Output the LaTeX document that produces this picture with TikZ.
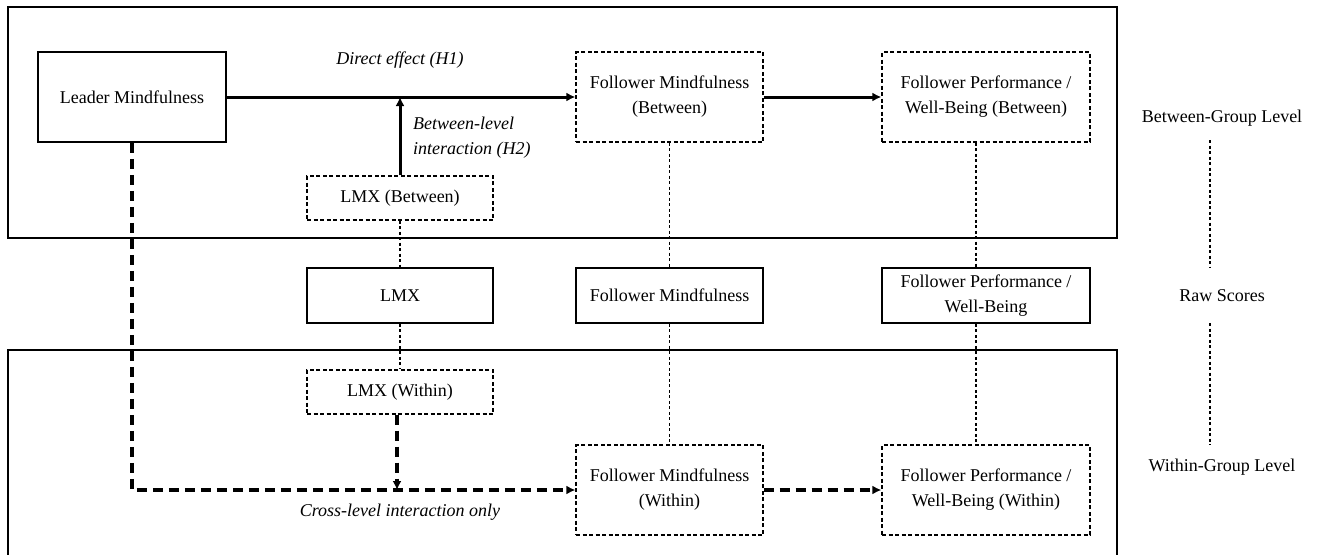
\documentclass[tikz,border=0pt]{standalone}
\usepackage{fontspec}
\setmainfont{Liberation Serif}
\usetikzlibrary{arrows.meta}
\begin{document}
\begin{tikzpicture}[x=1pt,y=-1pt,
  every node/.style={font=\fontsize{18}{25}\selectfont, align=center, inner sep=0pt},
  solidbox/.style={draw, line width=1.5pt},
  dashbox/.style={draw, line width=1.3pt, dash pattern=on 4pt off 2.5pt},
  levelbox/.style={draw, line width=1.6pt},
  link/.style={line width=1.1pt, dash pattern=on 3pt off 2.5pt},
  solidarrow/.style={line width=3pt, -{Latex[length=9pt,width=9pt]}},
  dasharrow/.style={line width=3.2pt, dash pattern=on 10pt off 6pt, -{Latex[length=9pt,width=9pt]}},
  lbl/.style={font=\fontsize{18}{25}\selectfont\itshape}
]
\useasboundingbox (0,0) rectangle (1322,554);
% level frames
\draw[levelbox] (8,7) rectangle (1117,238);
\draw[levelbox] (8,560) -- (8,350) -- (1117,350) -- (1117,560);

% nodes
\node[solidbox, minimum width=188pt, minimum height=90pt] (lm) at (132,97) {Leader Mindfulness};
\node[dashbox, minimum width=187pt, minimum height=90pt] (fmb) at (669.5,97) {Follower Mindfulness\\(Between)};
\node[dashbox, minimum width=208pt, minimum height=90pt] (fpb) at (986,97) {Follower Performance /\\Well-Being (Between)};
\node[dashbox, minimum width=186pt, minimum height=44pt] (lmxb) at (400,198) {LMX (Between)};

\node[solidbox, minimum width=186pt, minimum height=55pt] (lmx) at (400,295.5) {LMX};
\node[solidbox, minimum width=187pt, minimum height=55pt] (fm) at (669.5,295.5) {Follower Mindfulness};
\node[solidbox, minimum width=208pt, minimum height=55pt] (fp) at (986,295.5) {Follower Performance /\\Well-Being};

\node[dashbox, minimum width=186pt, minimum height=44pt] (lmxw) at (400,392) {LMX (Within)};
\node[dashbox, minimum width=187pt, minimum height=90pt] (fmw) at (669.5,490) {Follower Mindfulness\\(Within)};
\node[dashbox, minimum width=208pt, minimum height=90pt] (fpw) at (986,490) {Follower Performance /\\Well-Being (Within)};

% level labels
\node (lvb) at (1222,118) {Between-Group Level};
\node (lvr) at (1222,296) {Raw Scores};
\node (lvw) at (1222,467) {Within-Group Level};
\coordinate (d1a) at (1210,140);
\coordinate (d1b) at (1210,268);
\coordinate (d2a) at (1210,323);
\coordinate (d2b) at (1210,445);
\draw[link] (d1a) -- (d1b);
\draw[link] (d2a) -- (d2b);

% decomposition links
\draw[link] (lmxb.south) -- (lmx.north);
\draw[link] (lmx.south) -- (lmxw.north);
\draw[link] (fmb.south) -- (fm.north);
\draw[link] (fm.south) -- (fmw.north);
\draw[link] ([xshift=-10pt]fpb.south) -- ([xshift=-10pt]fp.north);
\draw[link] ([xshift=-10pt]fp.south) -- ([xshift=-10pt]fpw.north);

% between-level paths
\draw[solidarrow] (lm.east) -- (fmb.west);
\coordinate (mod) at (lmxb.north |- lm.east);
\draw[solidarrow] (lmxb.north) -- (mod);
\draw[solidarrow] (fmb.east) -- (fpb.west);
\node[lbl] (h1) at (400,60) {Direct effect (H1)};
\node[lbl, anchor=west, align=left] (h2) at (413,138) {Between-level\\interaction (H2)};

% within-level paths
\coordinate (corner) at (lm.south |- fmw.west);
\coordinate (cross) at ([xshift=-3pt]lmxw.south |- fmw.west);
\draw[dasharrow] (lm.south) -- (corner) -- (fmw.west);
\draw[dasharrow] ([xshift=-3pt]lmxw.south) -- (cross);
\draw[dasharrow] (fmw.east) -- (fpw.west);
\node[lbl] (cl) at (400,512) {Cross-level interaction only};
\end{tikzpicture}
\end{document}
